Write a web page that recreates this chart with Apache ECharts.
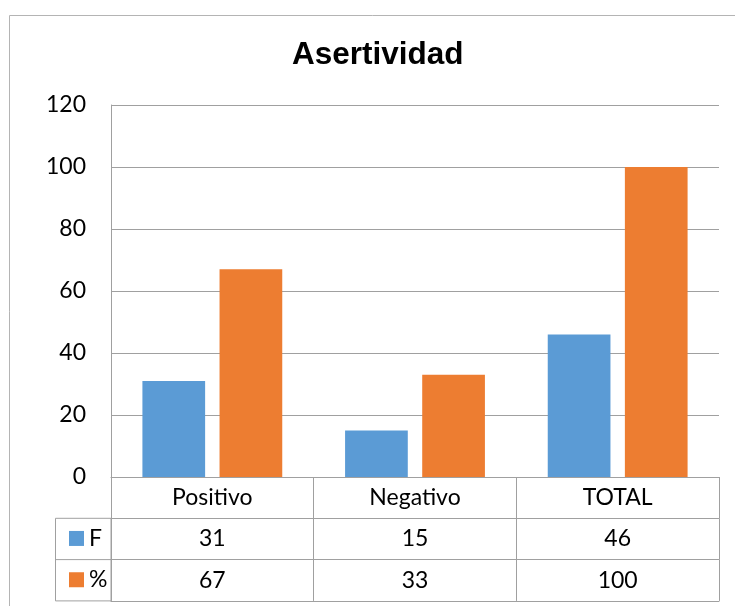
<!DOCTYPE html>
<html>
<head>
<meta charset="utf-8">
<title>Asertividad</title>
<script src="https://cdn.jsdelivr.net/npm/echarts@6/dist/echarts.min.js"></script>
<style>
    html, body { margin: 0; padding: 0; background: #fff; }
    #chart { width: 735px; height: 606px; }
</style>
</head>
<body>
<div id="chart"></div>
<script>
// data
const categories = ['Positivo', 'Negativo', 'TOTAL'];
const fValues = [31, 15, 46];
const pctValues = [67, 33, 100];
const yTicks = [0, 20, 40, 60, 80, 100, 120];

// layout
const gridLeft = 111, gridRight = 16, gridTop = 105, gridBottom = 129;
const rowH = 41.3;
const lineColor = '#a0a0a0';
const font = 'Lato';
const axisY = 606 - gridBottom;

// one category axis per table row, stacked under the plot
const tableAxis = (row, labels) => ({
    type: 'category',
    data: categories,
    position: 'bottom',
    offset: row * rowH,
    axisLine: { show: true, lineStyle: { color: lineColor, width: 1 } },
    axisTick: { show: labels != null, interval: 0, length: rowH, lineStyle: { color: lineColor } },
    axisLabel: labels == null ? { show: false } : {
        show: true,
        interval: 0,
        margin: rowH / 2,
        verticalAlign: 'middle',
        color: '#000',
        fontFamily: font,
        fontSize: 23,
        formatter: (v, i) => String(labels[i])
    },
    splitLine: { show: false }
});

const chart = echarts.init(document.getElementById('chart'));
chart.setOption({
    animation: false,
    title: {
        text: 'Asertividad',
        left: 292,
        top: 39,
        padding: 0,
        textStyle: { fontFamily: 'Liberation Sans', fontWeight: 'bold', fontSize: 31.5, color: '#000' }
    },
    legend: {
        orient: 'vertical',
        left: 64,
        top: axisY + rowH * 1.5 - 17,
        itemWidth: 15,
        itemHeight: 15,
        itemGap: rowH - 23,
        icon: 'rect',
        selectedMode: false,
        textStyle: { fontFamily: font, fontSize: 23, lineHeight: 23, color: '#000' },
        data: ['F', '%']
    },
    grid: { left: gridLeft, right: gridRight, top: gridTop, bottom: gridBottom, containLabel: false },
    xAxis: [
        tableAxis(0, categories),
        tableAxis(1, fValues),
        tableAxis(2, pctValues),
        tableAxis(3, null)
    ],
    yAxis: {
        type: 'value',
        min: yTicks[0],
        max: yTicks[yTicks.length - 1],
        interval: yTicks[1] - yTicks[0],
        axisLine: { show: true, lineStyle: { color: lineColor } },
        axisTick: { show: false },
        axisLabel: { margin: 25, color: '#000', fontFamily: font, fontSize: 23 },
        splitLine: { lineStyle: { color: lineColor } }
    },
    series: [
        {
            name: 'F',
            type: 'bar',
            data: fValues,
            itemStyle: { color: '#5b9bd5' },
            barGap: '23%',
            barCategoryGap: '31%'
        },
        {
            name: '%',
            type: 'bar',
            data: pctValues,
            itemStyle: { color: '#ed7d31' }
        }
    ],
    graphic: [
        // outer chart frame (runs off the right and bottom)
        {
            type: 'rect', silent: true, z: -1,
            shape: { x: 9.5, y: 15.5, width: 800, height: 700 },
            style: { fill: 'none', stroke: '#b4b4b4', lineWidth: 1 }
        },
        // legend column of the data table
        {
            type: 'rect', silent: true,
            shape: { x: 55.5, y: axisY + rowH, width: gridLeft - 55.5, height: rowH * 2 },
            style: { fill: 'none', stroke: lineColor, lineWidth: 1 }
        },
        {
            type: 'line', silent: true,
            shape: { x1: 55.5, y1: axisY + rowH * 2, x2: gridLeft, y2: axisY + rowH * 2 },
            style: { stroke: lineColor, lineWidth: 1 }
        }
    ]
});
</script>
</body>
</html>
